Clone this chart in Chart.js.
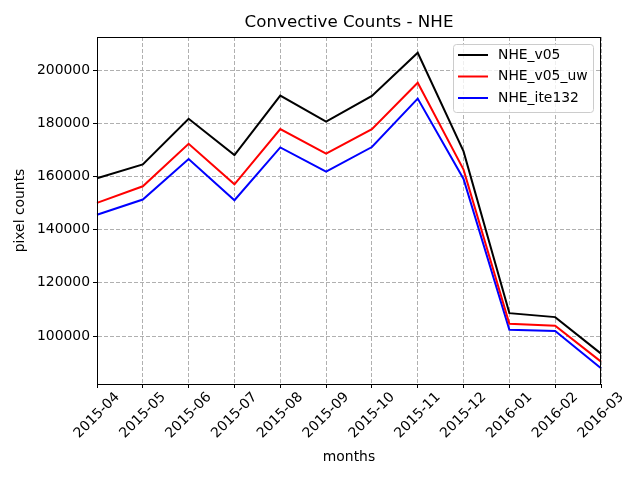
<!DOCTYPE html>
<html>
<head>
<meta charset="utf-8">
<script src="https://cdn.jsdelivr.net/npm/chart.js@4/dist/chart.umd.min.js"></script>
<style>
  html, body { margin: 0; padding: 0; background: #fff; }
  #wrap { width: 640px; height: 480px; }
</style>
</head>
<body>
<div id="wrap"><canvas id="chart" width="640" height="480"></canvas></div>
<script>
const months = ['2015-04', '2015-05', '2015-06', '2015-07', '2015-08', '2015-09',
                '2015-10', '2015-11', '2015-12', '2016-01', '2016-02', '2016-03'];
const nheV05 = [159300, 164500, 181650, 168050, 190380, 180640,
                190260, 206480, 169400, 108610, 107120, 93380];
const nheV05Uw = [150070, 156300, 172280, 157040, 177780, 168540,
                  177780, 195240, 162550, 104610, 103860, 90390];
const nheIte132 = [145580, 151310, 166550, 151060, 170900, 161800,
                   171040, 189260, 159060, 102360, 101870, 87900];
const yTicks = [100000, 120000, 140000, 160000, 180000, 200000];

const font = 'DejaVu Sans';

// draws frame, title, axis titles, rotated month labels and the legend box
const mplLook = {
  id: 'mplLook',
  afterDraw(chart) {
    const ctx = chart.ctx;
    const a = chart.chartArea;
    const xs = chart.scales.x;
    ctx.save();
    ctx.strokeStyle = '#000';
    ctx.lineWidth = 1;
    ctx.strokeRect(a.left + 0.5, a.top + 0.5, a.right - a.left - 1, a.bottom - a.top);

    ctx.fillStyle = '#000';
    ctx.textAlign = 'center';
    ctx.textBaseline = 'middle';
    ctx.font = '16.7px "' + font + '"';
    ctx.fillText('Convective Counts - NHE', (a.left + a.right) / 2, 23);

    ctx.font = '13.9px "' + font + '"';
    ctx.fillText('months', (a.left + a.right) / 2, 457);
    ctx.save();
    ctx.translate(20, (a.top + a.bottom) / 2);
    ctx.rotate(-Math.PI / 2);
    ctx.fillText('pixel counts', 0, 0);
    ctx.restore();

    // month labels, rotated 45 deg and centred under their ticks
    months.forEach((m, i) => {
      const x = xs.getPixelForValue(i);
      const w = ctx.measureText(m).width;
      const h = 11;
      const bb = (w + h) / Math.SQRT2;
      ctx.save();
      ctx.translate(x, a.bottom + 7 + bb / 2);
      ctx.rotate(-Math.PI / 4);
      ctx.fillText(m, 0, 0);
      ctx.restore();
    });

    // legend
    const bx = 453, by = 44, bw = 140, bh = 68;
    ctx.beginPath();
    ctx.roundRect(bx + 0.5, by + 0.5, bw, bh, 3);
    ctx.fillStyle = 'rgba(255,255,255,0.8)';
    ctx.fill();
    ctx.strokeStyle = '#cccccc';
    ctx.stroke();
    ctx.textAlign = 'left';
    chart.data.datasets.forEach((ds, i) => {
      const yy = 55 + i * 21.5;
      ctx.beginPath();
      ctx.moveTo(458, yy);
      ctx.lineTo(488, yy);
      ctx.strokeStyle = ds.borderColor;
      ctx.lineWidth = 2;
      ctx.stroke();
      ctx.fillStyle = '#000';
      ctx.fillText(ds.label, 498, yy);
    });
    ctx.restore();
  }
};

new Chart(document.getElementById('chart'), {
  type: 'line',
  data: {
    labels: months,
    datasets: [
      { label: 'NHE_v05', data: nheV05, borderColor: '#000000' },
      { label: 'NHE_v05_uw', data: nheV05Uw, borderColor: '#ff0000' },
      { label: 'NHE_ite132', data: nheIte132, borderColor: '#0000ff' }
    ].map(d => Object.assign(d, { borderWidth: 2, pointRadius: 0, tension: 0, fill: false }))
  },
  options: {
    responsive: false,
    animation: false,
    devicePixelRatio: 1,
    layout: { padding: { top: 37, right: 39, left: 0, bottom: 0 } },
    plugins: { legend: { display: false }, title: { display: false }, tooltip: { enabled: false } },
    scales: {
      x: {
        offset: false,
        afterFit(s) { s.height = 96; },
        ticks: { display: false },
        grid: {
          color: '#b0b0b0', offset: false,
          tickLength: 4, tickColor: '#000', tickBorderDash: []
        },
        border: { color: '#000', width: 1, dash: [4, 2] }
      },
      y: {
        min: 81970,
        max: 212410,
        afterFit(s) { s.width = 97; },
        afterBuildTicks(s) { s.ticks = yTicks.map(v => ({ value: v })); },
        ticks: {
          includeBounds: false,
          color: '#000',
          padding: 3,
          font: { family: font, size: 13.9 },
          callback: v => String(v)
        },
        grid: {
          color: '#b0b0b0',
          tickLength: 4, tickColor: '#000', tickBorderDash: []
        },
        border: { color: '#000', width: 1, dash: [4, 2] }
      }
    }
  },
  plugins: [mplLook]
});
</script>
</body>
</html>
